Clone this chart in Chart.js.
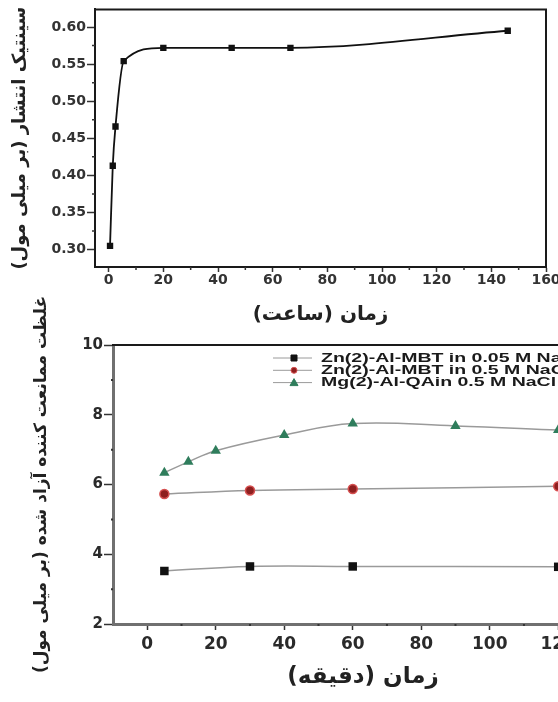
<!DOCTYPE html>
<html>
<head>
<meta charset="utf-8">
<script src="https://cdn.jsdelivr.net/npm/chart.js@4"></script>
<style>
    html, body { margin: 0; padding: 0; background: #fff; width: 558px; height: 702px; overflow: hidden; }
    #topBox { position: absolute; left: 0; top: 0; width: 558px; height: 330px; }
    #bottomBox { position: absolute; left: 0; top: 290px; width: 630px; height: 412px; }
</style>
</head>
<body>
<div id="topBox"><canvas id="kineticsChart"></canvas></div>
<div id="bottomBox"><canvas id="releaseChart"></canvas></div>
<script>
// top chart - release kinetics (hours)
const hours = [0.5, 1.5, 2.5, 5.5, 20, 45, 66.5, 146];
const kinetics = [0.305, 0.413, 0.466, 0.554, 0.572, 0.572, 0.572, 0.595];
const hourTicks = [0, 20, 40, 60, 80, 100, 120, 140, 160];
const kineticsTicks = [0.30, 0.35, 0.40, 0.45, 0.50, 0.55, 0.60];

// bottom chart - released inhibitor (minutes)
const seriesNames = [
    'Zn(2)-Al-MBT in 0.05 M NaCl',
    'Zn(2)-Al-MBT in 0.5 M NaCl',
    'Mg(2)-Al-QAin 0.5 M NaCl'
];
const minutesMbt005 = [5, 30, 60, 120];
const mbt005 = [3.52, 3.65, 3.65, 3.64];
const minutesMbt05 = [5, 30, 60, 120];
const mbt05 = [5.73, 5.83, 5.87, 5.95];
const minutesQain = [5, 12, 20, 40, 60, 90, 120];
const qain05 = [6.34, 6.65, 6.97, 7.42, 7.75, 7.68, 7.56];
const minuteTicks = [0, 20, 40, 60, 80, 100, 120];
const releaseTicks = [2, 4, 6, 8, 10];

// RLM marks keep the parentheses on the right side of the arabic text
const rlm = '\u200F';
const kineticsTitle = rlm + 'سینتیک انتشار (بر میلی مول)' + rlm;
const hoursTitle = rlm + 'زمان (ساعت)' + rlm;
const releaseTitle = rlm + 'غلظت ممانعت کننده آزاد شده (بر میلی مول)' + rlm;
const minutesTitle = rlm + 'زمان (دقیقه)' + rlm;

Chart.defaults.font.family = 'DejaVu Sans';
Chart.defaults.color = '#2a2a2a';

const toPoints = (xs, ys) => xs.map((x, i) => ({x: x, y: ys[i]}));
const fixedTicks = list => scale => { scale.ticks = list.map(v => ({value: v})); };

// closes the box on the top and right side
const frame = {
    id: 'frame',
    afterDraw(chart, args, opts) {
        const {ctx, chartArea: a} = chart;
        ctx.save();
        ctx.strokeStyle = opts.color;
        ctx.lineWidth = opts.width;
        ctx.beginPath();
        ctx.moveTo(a.left - 1, a.top);
        ctx.lineTo(a.right, a.top);
        ctx.lineTo(a.right, a.bottom + 1);
        ctx.stroke();
        ctx.restore();
    }
};

// small ticks half way between the labelled ones
const minorTicks = {
    id: 'minorTicks',
    afterDraw(chart, args, opts) {
        const {ctx} = chart;
        const xs = chart.scales.x, ys = chart.scales.y;
        const mids = s => s.ticks.slice(1).map((t, i) => (t.value + s.ticks[i].value) / 2);
        ctx.save();
        ctx.strokeStyle = opts.color;
        ctx.lineWidth = opts.width;
        ctx.beginPath();
        mids(xs).forEach(v => {
            const p = xs.getPixelForValue(v);
            ctx.moveTo(p, xs.top);
            ctx.lineTo(p, xs.top + opts.length);
        });
        mids(ys).forEach(v => {
            const p = ys.getPixelForValue(v);
            ctx.moveTo(ys.right, p);
            ctx.lineTo(ys.right - opts.length, p);
        });
        ctx.stroke();
        ctx.restore();
    }
};

// legend inside the plot, one row per series
const boxLegend = {
    id: 'boxLegend',
    afterDatasetsDraw(chart, args, opts) {
        const {ctx, chartArea: a} = chart;
        ctx.save();
        chart.data.datasets.forEach((ds, i) => {
            const y = a.top + opts.firstRow + i * opts.rowGap;
            ctx.strokeStyle = ds.borderColor;
            ctx.lineWidth = 1;
            ctx.beginPath();
            ctx.moveTo(opts.lineFrom, y);
            ctx.lineTo(opts.lineTo, y);
            ctx.stroke();
            const mx = opts.marker, r = opts.markerSize;
            ctx.fillStyle = ds.pointBackgroundColor;
            ctx.strokeStyle = ds.pointBorderColor;
            ctx.beginPath();
            if (ds.pointStyle === 'rect') {
                ctx.rect(mx - r, y - r, 2 * r, 2 * r);
            } else if (ds.pointStyle === 'triangle') {
                ctx.moveTo(mx, y - r - 1);
                ctx.lineTo(mx + r + 1, y + r);
                ctx.lineTo(mx - r - 1, y + r);
                ctx.closePath();
            } else {
                ctx.arc(mx, y, r, 0, Math.PI * 2);
            }
            ctx.fill();
            ctx.stroke();
            ctx.save();
            ctx.direction = 'ltr';
            ctx.translate(opts.text, y);
            ctx.scale(opts.stretch, 1);
            ctx.font = 'bold 13px "Liberation Sans"';
            ctx.fillStyle = '#1a1a1a';
            ctx.textBaseline = 'middle';
            ctx.textAlign = 'left';
            ctx.fillText(seriesNames[i], 0, 0);
            ctx.restore();
        });
        ctx.restore();
    }
};

new Chart(document.getElementById('kineticsChart'), {
    type: 'line',
    data: {
        datasets: [{
            data: toPoints(hours, kinetics),
            borderColor: '#111',
            borderWidth: 1.8,
            cubicInterpolationMode: 'monotone',
            pointStyle: 'rect',
            pointRadius: 4.5,
            pointBackgroundColor: '#111',
            pointBorderColor: '#111',
            pointBorderWidth: 0
        }]
    },
    options: {
        responsive: true,
        maintainAspectRatio: false,
        animation: false,
        layout: {padding: {top: 8, right: 12, left: 0, bottom: 0}},
        plugins: {
            legend: {display: false},
            tooltip: {enabled: false},
            frame: {color: '#1a1a1a', width: 2},
            minorTicks: {color: '#333', width: 1.5, length: 3}
        },
        scales: {
            x: {
                type: 'linear',
                min: -5,
                max: 160,
                afterBuildTicks: fixedTicks(hourTicks),
                afterFit: s => { s.height = 63; s.paddingLeft = 0; s.paddingRight = 0; },
                grid: {drawOnChartArea: false, tickLength: 5, tickWidth: 1.5, tickColor: '#333'},
                border: {color: '#1a1a1a', width: 2},
                ticks: {padding: 0, font: {size: 14, weight: 'bold'}, color: '#333'},
                title: {
                    display: true,
                    text: hoursTitle,
                    font: {size: 20, weight: 'bold'},
                    color: '#222',
                    padding: {top: 0, bottom: 3}
                }
            },
            y: {
                min: 0.2765,
                max: 0.6238,
                afterBuildTicks: fixedTicks(kineticsTicks),
                afterFit: s => { s.width = 95; },
                grid: {drawOnChartArea: false, tickLength: 8, tickWidth: 1.5, tickColor: '#333'},
                border: {color: '#1a1a1a', width: 2},
                ticks: {
                    padding: 1,
                    font: {size: 14, weight: 'bold'},
                    color: '#333',
                    callback: v => v.toFixed(2)
                },
                title: {
                    display: true,
                    text: kineticsTitle,
                    font: {size: 18, weight: 'bold'},
                    color: '#222',
                    padding: {top: 10, bottom: 0}
                }
            }
        }
    },
    plugins: [frame, minorTicks]
});

const lineGray = '#9a9a9a';

new Chart(document.getElementById('releaseChart'), {
    type: 'line',
    data: {
        datasets: [{
            label: seriesNames[0],
            data: toPoints(minutesMbt005, mbt005),
            borderColor: lineGray,
            borderWidth: 1.5,
            tension: 0.4,
            pointStyle: 'rect',
            pointRadius: 6,
            pointBackgroundColor: '#111',
            pointBorderColor: '#111',
            pointBorderWidth: 0
        }, {
            label: seriesNames[1],
            data: toPoints(minutesMbt05, mbt05),
            borderColor: lineGray,
            borderWidth: 1.5,
            tension: 0.4,
            pointStyle: 'circle',
            pointRadius: 4.5,
            pointBackgroundColor: '#8e1f1f',
            pointBorderColor: '#d65050',
            pointBorderWidth: 1.5
        }, {
            label: seriesNames[2],
            data: toPoints(minutesQain, qain05),
            borderColor: lineGray,
            borderWidth: 1.5,
            tension: 0.4,
            pointStyle: 'triangle',
            pointRadius: 6,
            pointBackgroundColor: '#2f7d5c',
            pointBorderColor: '#2f7d5c',
            pointBorderWidth: 0
        }]
    },
    options: {
        responsive: true,
        maintainAspectRatio: false,
        animation: false,
        layout: {padding: {top: 55, right: 17, left: 0, bottom: 0}},
        plugins: {
            legend: {display: false},
            tooltip: {enabled: false},
            frame: {color: '#1a1a1a', width: 2},
            minorTicks: {color: '#333', width: 2, length: 2},
            boxLegend: {
                firstRow: 13, rowGap: 12.3,
                lineFrom: 273, lineTo: 312, marker: 294, markerSize: 3,
                text: 321, stretch: 1.5
            }
        },
        scales: {
            x: {
                type: 'linear',
                min: -10,
                max: 136,
                afterBuildTicks: fixedTicks(minuteTicks),
                afterFit: s => { s.height = 78; s.paddingLeft = 0; s.paddingRight = 0; },
                grid: {drawOnChartArea: false, tickLength: 6, tickWidth: 1.5, tickColor: '#333'},
                border: {color: '#707070', width: 3},
                ticks: {padding: 4, font: {size: 17, weight: 'bold'}, color: '#2a2a2a'},
                title: {
                    display: true,
                    text: minutesTitle,
                    font: {size: 23, weight: 'bold'},
                    color: '#222',
                    padding: {top: 0, bottom: 11}
                }
            },
            y: {
                min: 2,
                max: 10,
                afterBuildTicks: fixedTicks(releaseTicks),
                afterFit: s => { s.width = 113; },
                grid: {drawOnChartArea: false, tickLength: 9, tickWidth: 1.5, tickColor: '#333'},
                border: {color: '#707070', width: 3},
                ticks: {padding: 1, font: {size: 15, weight: 'bold'}, color: '#2a2a2a'},
                title: {
                    display: true,
                    text: releaseTitle,
                    font: {size: 17, weight: 'bold'},
                    color: '#222',
                    padding: {top: 31, bottom: 0}
                }
            }
        }
    },
    plugins: [frame, minorTicks, boxLegend]
});
</script>
</body>
</html>
